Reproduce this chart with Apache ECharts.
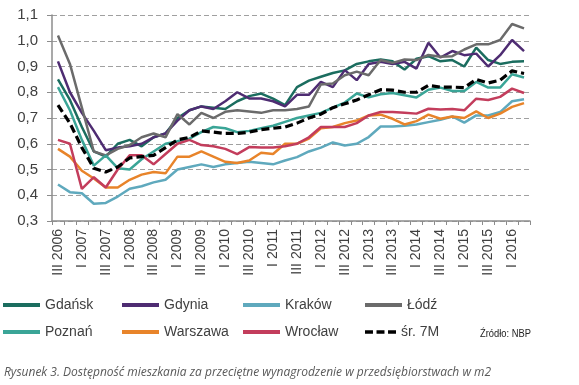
<!DOCTYPE html>
<html><head><meta charset="utf-8">
<script src="https://cdn.jsdelivr.net/npm/echarts@6/dist/echarts.min.js"></script>
<style>html,body{margin:0;padding:0;background:#fff}#c{width:579px;height:385px}</style>
</head><body><div id="c"></div>
<script>
const categories = ["III 2006","IV 2006","I 2007","II 2007","III 2007","IV 2007","I 2008","II 2008","III 2008","IV 2008",
"I 2009","II 2009","III 2009","IV 2009","I 2010","II 2010","III 2010","IV 2010","I 2011","II 2011",
"III 2011","IV 2011","I 2012","II 2012","III 2012","IV 2012","I 2013","II 2013","III 2013","IV 2013",
"I 2014","II 2014","III 2014","IV 2014","I 2015","II 2015","III 2015","IV 2015","I 2016","II 2016"];
const yTicks = [0.3,0.4,0.5,0.6,0.7,0.8,0.9,1.0,1.1];

const gdansk = [0.85,0.77,0.665,0.57,0.55,0.60,0.615,0.59,0.625,0.64,0.70,0.73,
0.745,0.74,0.735,0.765,0.785,0.795,0.775,0.75,0.82,0.845,0.86,0.875,0.885,0.91,0.92,
0.927,0.92,0.888,0.93,0.94,0.92,0.925,0.90,0.973,0.925,0.91,0.918,0.92];
const gdynia = [0.92,0.80,0.72,0.65,0.575,0.585,0.59,0.60,0.625,0.64,0.69,0.73,
0.745,0.735,0.765,0.80,0.776,0.776,0.765,0.745,0.79,0.79,0.84,0.82,0.886,0.847,0.91,
0.918,0.91,0.918,0.892,0.992,0.935,0.96,0.944,0.95,0.90,0.944,1.003,0.96];
const krakow = [0.442,0.412,0.408,0.367,0.37,0.395,0.425,0.435,0.45,0.46,0.50,0.51,
0.52,0.51,0.52,0.525,0.53,0.525,0.52,0.535,0.548,0.57,0.585,0.605,0.593,0.60,0.626,
0.667,0.667,0.67,0.675,0.684,0.693,0.706,0.682,0.71,0.71,0.723,0.765,0.773];
const lodz = [1.02,0.91,0.74,0.57,0.555,0.58,0.595,0.625,0.64,0.625,0.715,0.675,
0.72,0.70,0.724,0.73,0.725,0.72,0.73,0.73,0.735,0.745,0.83,0.834,0.866,0.88,0.866,
0.925,0.914,0.927,0.925,0.945,0.938,0.94,0.966,0.986,0.986,1.003,1.065,1.048];
const poznan = [0.82,0.73,0.615,0.515,0.555,0.505,0.50,0.54,0.57,0.60,0.61,0.62,
0.645,0.665,0.66,0.645,0.65,0.66,0.67,0.685,0.70,0.71,0.72,0.74,0.76,0.795,0.78,
0.792,0.797,0.788,0.78,0.81,0.818,0.805,0.805,0.84,0.818,0.818,0.87,0.857];
const warszawa = [0.58,0.55,0.495,0.465,0.43,0.43,0.46,0.48,0.49,0.485,0.55,0.55,
0.57,0.55,0.53,0.525,0.535,0.565,0.56,0.60,0.60,0.62,0.66,0.665,0.68,0.69,0.71,
0.713,0.697,0.675,0.688,0.713,0.697,0.706,0.70,0.726,0.70,0.717,0.743,0.758];
const wroclaw = [0.615,0.60,0.425,0.47,0.43,0.50,0.555,0.555,0.52,0.56,0.60,0.615,
0.595,0.59,0.58,0.56,0.587,0.585,0.585,0.59,0.60,0.625,0.665,0.665,0.665,0.68,0.71,
0.723,0.723,0.72,0.717,0.736,0.733,0.735,0.73,0.775,0.77,0.782,0.814,0.797];
const avg7m = [0.75,0.68,0.585,0.505,0.49,0.51,0.545,0.55,0.555,0.585,0.615,0.625,
0.65,0.645,0.64,0.64,0.645,0.655,0.66,0.665,0.68,0.70,0.715,0.74,0.755,0.77,0.79,
0.81,0.808,0.80,0.80,0.827,0.82,0.82,0.818,0.85,0.836,0.847,0.883,0.873];

const seriesDefs = [
  {name:'Gdańsk', data:gdansk, color:'#1b6d5f'},
  {name:'Gdynia', data:gdynia, color:'#4e2c72'},
  {name:'Kraków', data:krakow, color:'#5fa9bd'},
  {name:'Łódź', data:lodz, color:'#6b6b6b'},
  {name:'Poznań', data:poznan, color:'#3aa597'},
  {name:'Warszawa', data:warszawa, color:'#e8842a'},
  {name:'Wrocław', data:wroclaw, color:'#c33d5c'},
  {name:'śr. 7M', data:avg7m, color:'#000000', dashed:true}
];

const legendPos = [[3,298],[122,298],[243,298],[365,298],[3,325],[122,325],[243,325],[365,325]];
const FONT = 'Liberation Sans, Arial, sans-serif';
const dashIcon = 'path://M0,0h9v4h-9z M13,0h9v4h-9z M26,0h9v4h-9z';

const chart = echarts.init(document.getElementById('c'));
chart.setOption({
  animation:false,
  backgroundColor:'#ffffff',
  grid:{left:52, right:49, top:15, bottom:164, containLabel:false},
  xAxis:{
    type:'category', data:categories, boundaryGap:true,
    axisLine:{lineStyle:{color:'#8c8c8c', width:1.5}},
    axisTick:{show:true, interval:0, length:4, lineStyle:{color:'#8c8c8c'}},
    axisLabel:{interval:1, rotate:90, margin:8, color:'#404040', fontSize:14, fontFamily:FONT},
    splitLine:{show:false}
  },
  yAxis:{
    type:'value', min:0.3, max:1.1, interval:0.1,
    axisLine:{show:true, lineStyle:{color:'#8c8c8c', width:1.5}},
    axisTick:{show:true, length:5, lineStyle:{color:'#8c8c8c'}},
    axisLabel:{margin:14, color:'#404040', fontSize:15, fontFamily:FONT,
      formatter:v=>v.toFixed(1).replace('.',',')},
    splitLine:{show:true, lineStyle:{color:'#a0a0a0', type:[5,3], width:1}}
  },
  legend: seriesDefs.map((s,i)=>({
    data:[s.name], left:legendPos[i][0], top:legendPos[i][1], padding:0,
    icon: s.dashed ? dashIcon : 'rect',
    itemWidth: s.dashed ? 31 : 37, itemHeight:4, itemGap:0,
    textStyle:{color:'#404040', fontSize:14, fontFamily:FONT, padding:[0,0,0,0]}
  })),
  series: seriesDefs.map(s=>({
    name:s.name, type:'line', data:s.data, symbol:'none', smooth:false,
    color:s.color, z: s.dashed ? 5 : 2,
    itemStyle:{color:s.color},
    lineStyle:{color:s.color, width: s.dashed ? 3.2 : 2.5, type: s.dashed ? [8,4] : 'solid'}
  })),
  graphic:[
    {type:'text', left:480, top:328, scaleX:0.85, style:{text:'Źródło: NBP', fill:'#222', font:'11px "Liberation Sans", Arial'}},
    {type:'text', left:4, top:367, style:{text:'Rysunek 3. Dostępność mieszkania za przeciętne wynagrodzenie w przedsiębiorstwach w m2', fill:'#595959', font:'italic 12px "Open Sans", "Noto Sans", sans-serif'}}
  ]
});
</script></body></html>
